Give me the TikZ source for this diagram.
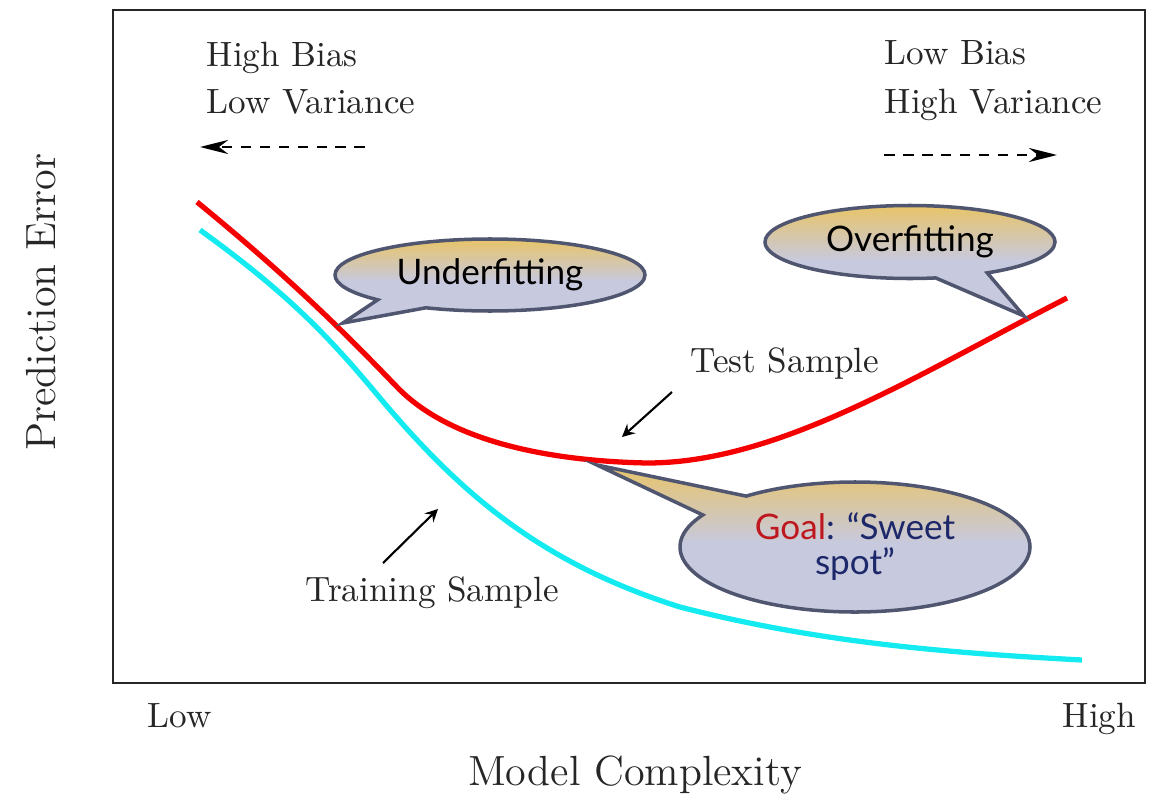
\documentclass[tikz,border=0pt]{standalone}
\usepackage{fontspec}
\newfontfamily\bubblefont{Lato}
\usetikzlibrary{shapes.callouts,arrows.meta}

\tikzset{
  bubble/.style={ellipse callout, draw=bubbleedge, line width=1pt, top color=bubblegold, bottom color=bubblegrey, middle color=bubblegrey, font=\bubblefont, inner sep=1pt, callout pointer arc=22},
  lbl/.style={text=black!85, inner sep=0pt},
  trend/.style={thick, dash pattern=on 3pt off 2.4pt, -{Stealth[length=8pt,width=4pt]}},
  hint/.style={semithick, -stealth}
}

\begin{document}
\begin{tikzpicture}
\definecolor{bubblegold}{RGB}{232,196,104}
\definecolor{bubblegrey}{RGB}{199,201,222}
\definecolor{bubbleedge}{RGB}{80,86,112}
\definecolor{goalred}{RGB}{190,24,30}
\definecolor{goalblue}{RGB}{28,40,105}
\definecolor{testred}{RGB}{245,0,0}
\definecolor{traincyan}{RGB}{20,235,240}

	\useasboundingbox (0,0) rectangle (11.63,7.93);
	\draw[line width=0.7pt, black!85] (1.13,1.10) rectangle (11.45,7.83);

	\draw[testred, line width=1.5pt] (1.97,5.91) .. controls (2.9,5.15) and (3.45,4.60) .. (3.97,4.06) .. controls (4.50,3.51) and (5.5,3.32) .. (6.47,3.30) .. controls (7.8,3.30) and (9.2,4.2) .. (10.67,4.95);
	\draw[traincyan, line width=1.5pt] (2.00,5.63) .. controls (2.9,4.98) and (3.3,4.55) .. (3.80,3.95) .. controls (4.6,3.0) and (5.4,2.3) .. (6.80,1.86) .. controls (8.2,1.5) and (9.5,1.4) .. (10.82,1.33);

	\node[lbl, anchor=base west] (hibias) at (2.06,7.27) {High Bias};
	\node[lbl, anchor=base west] (lovar) at (2.06,6.79) {Low Variance};
	\coordinate (lstart) at (3.65,6.46);
	\coordinate (lend) at (2.00,6.46);
	\draw[trend] (lstart) -- (lend);

	\node[lbl, anchor=base west] (lobias) at (8.84,7.28) {Low Bias};
	\node[lbl, anchor=base west] (hivar) at (8.84,6.80) {High Variance};
	\coordinate (rstart) at (8.84,6.38);
	\coordinate (rend) at (10.57,6.38);
	\draw[trend] (rstart) -- (rend);

	\node[bubble, minimum width=3.1cm, minimum height=0.72cm, callout absolute pointer={(3.43,4.70)}] (under) at (4.90,5.18) {Underfitting};
	\node[bubble, minimum width=2.9cm, minimum height=0.73cm, callout absolute pointer={(10.24,4.77)}] (over) at (9.10,5.51) {Overfitting};
	\node[bubble, align=center, minimum width=3.5cm, minimum height=1.3cm, callout absolute pointer={(5.97,3.28)}] (goal) at (8.55,2.46) {\textcolor{goalred}{Goal}\textcolor{goalblue}{: “Sweet}\\[-2pt]\textcolor{goalblue}{spot”}};

	\node[lbl, anchor=base west] (test) at (6.90,4.21) {Test Sample};
	\coordinate (tstart) at (6.72,4.01);
	\coordinate (ttip) at (6.22,3.56);
	\draw[hint] (tstart) -- (ttip);

	\node[lbl, anchor=base west] (train) at (3.05,1.92) {Training Sample};
	\coordinate (rnstart) at (3.83,2.30);
	\coordinate (rntip) at (4.38,2.84);
	\draw[hint] (rnstart) -- (rntip);

	\node[lbl, anchor=base west] (low) at (1.47,0.66) {Low};
	\node[lbl, anchor=base west] (high) at (10.62,0.66) {High};
	\node[lbl, anchor=base, font=\large] (xlabel) at (6.35,0.08) {Model Complexity};
	\node[lbl, anchor=base, font=\large, rotate=90] (ylabel) at (0.55,4.91) {Prediction Error};

\end{tikzpicture}
\end{document}
